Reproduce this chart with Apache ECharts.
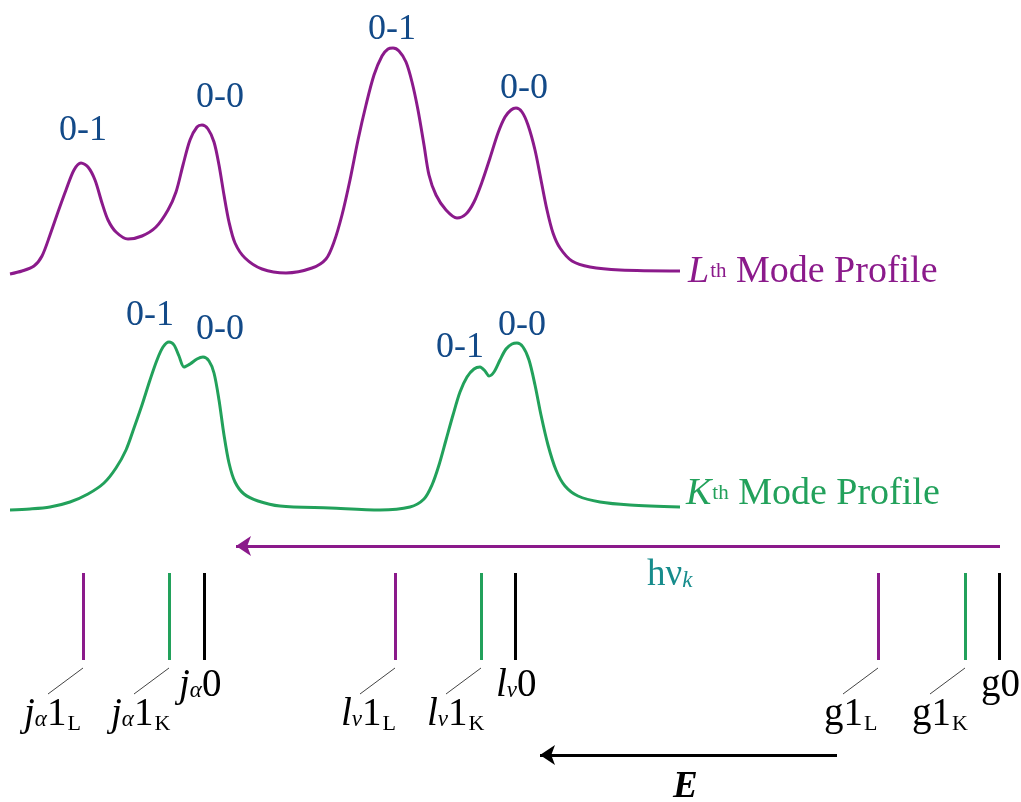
<!DOCTYPE html>
<html><head><meta charset="utf-8">
<script src="https://cdn.jsdelivr.net/npm/echarts@6/dist/echarts.min.js"></script>
<style>html,body{margin:0;padding:0;background:#fff}#c{width:1021px;height:802px}</style>
</head><body><div id="c"></div>
<script>
// L-th mode profile (energy axis x, intensity axis y, drawn downward-inverted)
const lProfile = [[10,274],[22,271],[34,266],[42,256],[50,235],[58,212],[66,190],[74,170],[81,163],[88,167],[95,180],[102,203],[108,220],[116,232],[128,239],[142,236],[156,227],[168,210],[176,192],[183,165],[190,140],[197,127],[202,125],[208,129],[214,142],[219,165],[224,195],[229,222],[235,243],[245,258],[262,269],[286,273],[312,268],[326,259],[334,242],[342,215],[350,180],[358,140],[366,105],[374,75],[382,56],[388,49],[393,48],[399,51],[406,62],[412,82],[418,110],[424,145],[429,175],[436,195],[446,210],[457,218],[466,214],[474,202],[482,182],[490,158],[498,133],[505,117],[511,110],[516,108],[522,112],[528,125],[535,150],[541,180],[547,210],[553,233],[560,248],[572,261],[590,267],[620,270],[680,271]];
// K-th mode profile
const kProfile = [[10,510],[30,509],[50,507],[70,502],[88,494],[104,483],[116,468],[126,450],[134,428],[142,405],[150,380],[157,360],[163,347],[169,342],[174,345],[179,356],[184,367],[190,364],[197,359],[203,357],[209,361],[214,373],[219,400],[224,435],[229,463],[235,482],[244,494],[258,501],[280,506],[330,508],[380,510],[410,507],[424,499],[432,485],[439,465],[446,440],[453,415],[460,392],[467,377],[474,369],[480,367],[485,371],[489,376],[494,372],[500,360],[506,349],[512,344],[517,343],[523,347],[529,360],[535,385],[541,415],[548,445],[556,470],[565,486],[578,496],[600,502],[630,505],[680,507]];
const peakLabelsL = [['0-1',83,131],['0-0',220,98],['0-1',392,30],['0-0',524,89]];
const peakLabelsK = [['0-1',150,316],['0-0',220,330],['0-1',460,348],['0-0',522,326]];
const profileNames = [['{i|L}{sup|th}{n| Mode Profile}',688,272,'L'],['{i|K}{sup|th}{n| Mode Profile}',686,494,'K']];
const levelsL = [83,395,878];
const levelsK = [169,481,965];
const levels0 = [204,515,999];
const levelSpan = [573,660];
const leaders = [[[83,668],[48,694]],[[169,668],[134,694]],[[395,668],[360,694]],[[481,668],[446,694]],[[878,668],[843,694]],[[965,668],[930,694]]];
const levelLabels = [
  ['{i|j}{si|α}{n|1}{s|L}',24,715],
  ['{i|j}{si|α}{n|1}{s|K}',111,715],
  ['{i|j}{si|α}{n|0}',179,686],
  ['{i|l}{si|ν}{n|1}{s|L}',341,715],
  ['{i|l}{si|ν}{n|1}{s|K}',427,715],
  ['{i|l}{si|ν}{n|0}',496,686],
  ['{n|g1}{s|L}',824,715],
  ['{n|g1}{s|K}',912,715],
  ['{n|g0}',981,686]
];
const arrowHv = [[1000,546],[236,546]];
const arrowE = [[837,755],[540,755]];
const arrowLabels = [['{n|hν}{si|k}',647,575,'teal'],['{b|E}',673,787,'black']];

const PURPLE = '#8B1A8B', GREEN = '#22A15B', NAVY = '#134A88', TEAL = '#178C8C';
const SERIF = 'Liberation Serif';

function richFor(color, fs) {
  return {
    n: {fontFamily: SERIF, fontSize: fs, color, lineHeight: fs, verticalAlign: 'top', opacity: 1},
    i: {fontFamily: SERIF, fontSize: fs, fontStyle: 'italic', color, lineHeight: fs, verticalAlign: 'top', opacity: 1},
    b: {fontFamily: SERIF, fontSize: fs, fontStyle: 'italic', fontWeight: 'bold', color, lineHeight: fs, verticalAlign: 'top', opacity: 1},
    s: {fontFamily: SERIF, fontSize: 22, color, lineHeight: 22, verticalAlign: 'top', padding: [Math.round(fs*0.46),0,0,1], opacity: 1},
    si: {fontFamily: SERIF, fontSize: 23, fontStyle: 'italic', color, lineHeight: 23, verticalAlign: 'top', padding: [Math.round(fs*0.34),0,0,0], opacity: 1},
    sup: {fontFamily: SERIF, fontSize: 21, color, lineHeight: 21, verticalAlign: 'top', padding: [Math.round(fs*0.2),0,0,1], opacity: 1}
  };
}

function vLines(xs, color) {
  return {
    type: 'lines', coordinateSystem: 'cartesian2d', silent: true,
    lineStyle: {color, width: 3, opacity: 1},
    data: xs.map(x => ({coords: [[x, levelSpan[0]], [x, levelSpan[1]]]}))
  };
}

function textSeries(data, labelOpts) {
  return {
    type: 'scatter', symbolSize: 0, silent: true,
    itemStyle: {opacity: 1},
    emphasis: {disabled: true},
    data,
    label: Object.assign({show: true, opacity: 1, formatter: p => p.name}, labelOpts)
  };
}

const chart = echarts.init(document.getElementById('c'), null, {renderer: 'canvas'});
chart.setOption({
  animation: false,
  backgroundColor: '#fff',
  grid: {left: 0, right: 0, top: 0, bottom: 0},
  xAxis: {type: 'value', min: 0, max: 1021, show: false},
  yAxis: {type: 'value', min: 0, max: 802, inverse: true, show: false},
  series: [
    {type: 'line', data: lProfile, smooth: 0.3, symbol: 'none', lineStyle: {color: PURPLE, width: 3}},
    {type: 'line', data: kProfile, smooth: 0.3, symbol: 'none', lineStyle: {color: GREEN, width: 3}},
    textSeries(peakLabelsL.concat(peakLabelsK).map(d => ({name: d[0], value: [d[1], d[2]]})),
      {position: 'inside', fontFamily: SERIF, fontSize: 36, color: NAVY}),
    textSeries(profileNames.map(d => ({name: d[0], value: [d[1], d[2]],
        label: {rich: richFor(d[3] === 'L' ? PURPLE : GREEN, 38)}})),
      {position: 'right', distance: 0}),
    vLines(levelsL, PURPLE),
    vLines(levelsK, GREEN),
    vLines(levels0, '#000'),
    {type: 'lines', coordinateSystem: 'cartesian2d', silent: true,
      lineStyle: {color: '#444', width: 1, opacity: 1},
      data: leaders.map(c => ({coords: c}))},
    textSeries(levelLabels.map(d => ({name: d[0], value: [d[1], d[2]]})),
      {position: 'right', distance: 0, rich: richFor('#000', 39)}),
    {type: 'lines', coordinateSystem: 'cartesian2d', silent: true,
      symbol: ['none', 'arrow'], symbolSize: 15,
      lineStyle: {color: PURPLE, width: 3, opacity: 1},
      data: [{coords: arrowHv}]},
    {type: 'lines', coordinateSystem: 'cartesian2d', silent: true,
      symbol: ['none', 'arrow'], symbolSize: 15,
      lineStyle: {color: '#000', width: 3, opacity: 1},
      data: [{coords: arrowE}]},
    textSeries(arrowLabels.map(d => ({name: d[0], value: [d[1], d[2]],
        label: {rich: richFor(d[3] === 'teal' ? TEAL : '#000', 37)}})),
      {position: 'right', distance: 0})
  ]
});
</script></body></html>
